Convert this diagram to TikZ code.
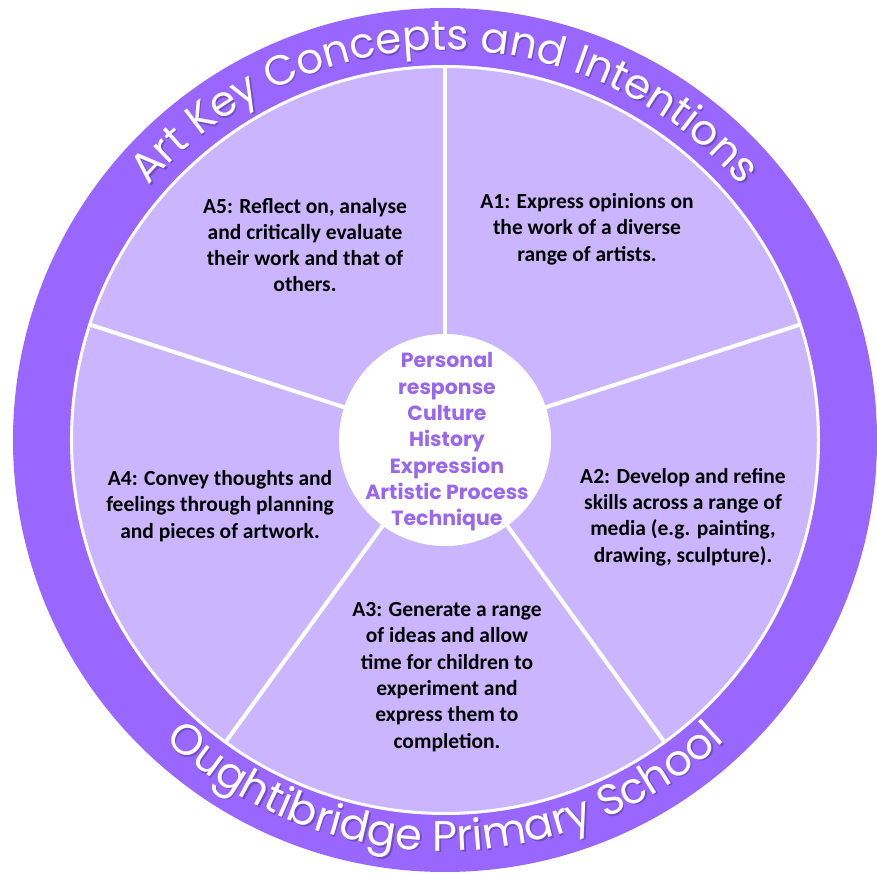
\documentclass[tikz,border=0pt]{standalone}
\usepackage{fontspec}
\setmainfont{Carlito}
\newfontfamily\comicfont{Poppins}
\usetikzlibrary{decorations.text}
\definecolor{ringpurple}{HTML}{9966FF}
\definecolor{lilac}{HTML}{CBB5FE}
\definecolor{centertext}{HTML}{9966EE}
\definecolor{shadowc}{HTML}{4A2F80}
\newcommand\ringfnt{\comicfont\fontsize{42pt}{48pt}\selectfont}
\newcommand\ringfntb{\comicfont\fontsize{43pt}{48pt}\selectfont}
\begin{document}
\begin{tikzpicture}[x=1pt,y=1pt,
  seg/.style={font=\bfseries\fontsize{21.5pt}{26.3pt}\selectfont, align=center, inner sep=0pt, text=black},
  hubtext/.style={font=\comicfont\bfseries\fontsize{20.5pt}{26.3pt}\selectfont, align=center, inner sep=0pt, text=centertext},
  divider/.style={white, line width=4pt},
  ringtext/.style={decorate, decoration={text along path, text={|\ringfnt|#1}, text align=center, text color=white}},
  ringshadow/.style={decorate, decoration={text along path, text={|\ringfnt|#1}, text align=center, text color=shadowc}},
  ringtextb/.style={decorate, decoration={text along path, text={|\ringfntb|#1}, text align=center, text color=white}},
  ringshadowb/.style={decorate, decoration={text along path, text={|\ringfntb|#1}, text align=center, text color=shadowc}}
]
\useasboundingbox (-445,-434) rectangle (432,440);
% outer ring
\fill[ringpurple] (0,0) circle (432);
\fill[lilac] (0,0) circle (373);
\draw[white, line width=3pt] (0,0) circle (373.5);
% dividers
\foreach \a in {90,18,306,234,162}
  \draw[divider] (0,0) -- (\a:374);
% hub
\node[circle, fill=white, minimum size=212pt, inner sep=0pt] (hub) at (0,0) {};
\node[hubtext] (hubt) at (2,-2) {Personal\\response\\Culture\\History\\Expression\\Artistic Process\\Technique};
% segment texts
\node[seg] (a5) at (-140,195) {A5: Reflect on, analyse\\and critically evaluate\\their work and that of\\others.};
\node[seg] (a1) at (142,211) {A1: Express opinions on\\the work of a diverse\\range of artists.};
\node[seg] (a2) at (238,-77) {A2: Develop and refine\\skills across a range of\\media (e.g. painting,\\drawing, sculpture).};
\node[seg] (a3) at (2,-237) {A3: Generate a range\\of ideas and allow\\time for children to\\experiment and\\express them to\\completion.};
\node[seg] (a4) at (-225,-66) {A4: Convey thoughts and\\feelings through planning\\and pieces of artwork.};
% ring texts with shadow
\begin{scope}[shift={(1.5,-1.5)}, opacity=0.45]
\path[ringshadow={Art Key Concepts and Intentions}] (160:390) arc[start angle=160, end angle=20, radius=390];
\path[ringshadowb={Oughtibridge Primary School}] (205:411) arc[start angle=205, end angle=335, radius=411];
\end{scope}
\path[ringtext={Art Key Concepts and Intentions}] (160:390) arc[start angle=160, end angle=20, radius=390];
\path[ringtextb={Oughtibridge Primary School}] (205:411) arc[start angle=205, end angle=335, radius=411];
\end{tikzpicture}
\end{document}
